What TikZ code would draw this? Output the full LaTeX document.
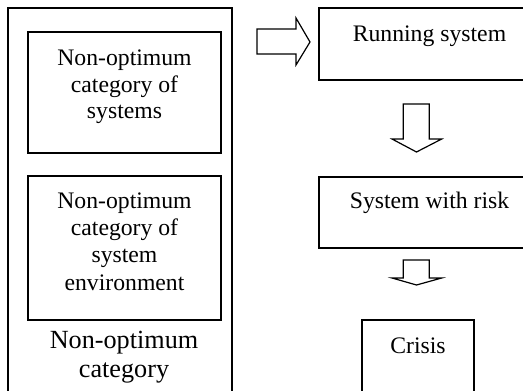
\documentclass[tikz,border=0pt]{standalone}
\usepackage{fontspec}
\setmainfont{Liberation Serif}
\begin{document}
\begin{tikzpicture}[x=1pt,y=-1pt,
  box/.style={draw=black,line width=1.2pt,inner sep=0pt,outer sep=0pt,rectangle},
  lbl/.style={anchor=base,inner sep=0pt,align=center,font=\fontsize{23.7}{27}\selectfont},
  biglbl/.style={anchor=base,inner sep=0pt,align=center,font=\fontsize{26.2}{29}\selectfont},
  blockarrow/.style={draw=black,line width=1.2pt,line join=miter,fill=white}]
\useasboundingbox (0,0) rectangle (523,391);
\clip (0,0) rectangle (523,391);
% boxes
\node[box,minimum width=224pt,minimum height=392pt] (outer) at (120,204) {};
\node[box,minimum width=193pt,minimum height=121pt] (in1) at (124.5,92.5) {};
\node[box,minimum width=193pt,minimum height=144pt] (in2) at (124.5,248) {};
\node[box,minimum width=221pt,minimum height=72pt] (run) at (429.5,44) {};
\node[box,minimum width=221pt,minimum height=71pt] (risk) at (429.5,212.5) {};
\node[box,minimum width=112pt,minimum height=80pt] (crisis) at (418,360) {};
% texts in left boxes
\node[lbl] (t1) at (124.5,65) {Non-optimum};
\node[lbl] (t2) at (124.5,92) {category of};
\node[lbl] (t3) at (124.5,118.5) {systems};
\node[lbl] (t4) at (124.5,208) {Non-optimum};
\node[lbl] (t5) at (124.5,235) {category of};
\node[lbl] (t6) at (124.5,262.5) {system};
\node[lbl] (t7) at (124.5,290) {environment};
\node[biglbl] (t8) at (124,348) {Non-optimum};
\node[biglbl] (t9) at (124,377) {category};
% texts in right boxes
\node[lbl] (r1) at (429.5,41) {Running system};
\node[lbl] (r2) at (429.5,208) {System with risk};
\node[lbl] (r3) at (418,353) {Crisis};
% block arrows
\draw[blockarrow] (257,29) -- (296,29) -- (296,18) -- (310,42) -- (296,65) -- (296,54) -- (257,54) -- cycle;
\draw[blockarrow] (403.3,104) -- (429.3,104) -- (429.3,139) -- (441.7,139) -- (416.5,152) -- (392,139) -- (403.3,139) -- cycle;
\draw[blockarrow] (403.3,260) -- (429.3,260) -- (429.3,278) -- (441.7,278) -- (416.5,285) -- (392,278) -- (403.3,278) -- cycle;
\end{tikzpicture}
\end{document}
